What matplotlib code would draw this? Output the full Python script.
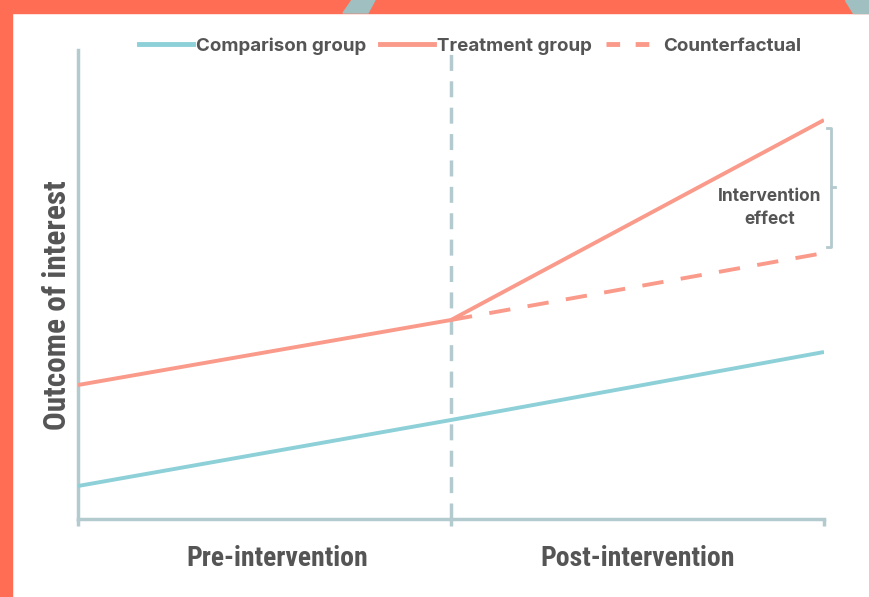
import numpy as np
import matplotlib
matplotlib.use("Agg")
import matplotlib.pyplot as plt
from matplotlib.patches import Rectangle, Polygon
from matplotlib.lines import Line2D

# Periods on the x axis (0 = start, 1 = intervention, 2 = end)
periods = [0, 1, 2]
comparison = [33, 99, 167]
treatment = [134, 199, 399]
counterfactual_x = [1, 2]
counterfactual = [199, 266]
period_labels = ["Pre-intervention", "Post-intervention"]
period_label_x = [0.535, 1.5]

teal = "#8dd0d8"
salmon = "#fa9a8a"
axis_col = "#b3cace"
text_col = "#555555"
border_col = "#ff6e54"
gray_col = "#9fbfc1"

W, H = 869, 597
fig = plt.figure(figsize=(W / 100, H / 100), dpi=100)

# decorative border
fig.patches.append(Rectangle((0, 0), 12 / W, 1, transform=fig.transFigure, color=border_col, zorder=0))
fig.patches.append(Rectangle((0, 1 - 13 / H), 1, 13 / H, transform=fig.transFigure, color=border_col, zorder=0))
fig.patches.append(Polygon([(352 / W, 1), (375 / W, 1), (368 / W, 1 - 13 / H), (343 / W, 1 - 13 / H)],
                           closed=True, transform=fig.transFigure, color=gray_col, zorder=1))
fig.patches.append(Polygon([(845 / W, 1), (1, 1), (1, 1 - 13 / H), (853 / W, 1 - 13 / H)],
                           closed=True, transform=fig.transFigure, color=gray_col, zorder=1))

ax = fig.add_axes([78 / W, (H - 519) / H, (824 - 78) / W, (519 - 50) / H])
ax.set_xlim(0, 2)
ax.set_ylim(0, 469)

ax.axvline(1, color=axis_col, lw=2.5, dashes=(4.6, 3), zorder=1)
ax.plot(periods, comparison, color=teal, lw=2.8, solid_capstyle="butt", zorder=3)
ax.plot(counterfactual_x, counterfactual, color=salmon, lw=2.8, dashes=(5.5, 4.5), zorder=3)
ax.plot(periods, treatment, color=salmon, lw=2.8, solid_capstyle="butt", zorder=4)

for s in ["top", "right"]:
    ax.spines[s].set_visible(False)
for s in ["left", "bottom"]:
    ax.spines[s].set_color(axis_col)
    ax.spines[s].set_linewidth(2.5)
ax.set_xticks(periods)
ax.set_xticklabels([])
ax.set_yticks([])
ax.tick_params(axis="x", length=5, width=2.5, color=axis_col)

cond = ["Roboto Condensed", "DejaVu Sans"]
for x, lab in zip(period_label_x, period_labels):
    ax.text(x, -40, lab, ha="center", va="center", fontsize=20, fontweight="bold",
            color=text_col, family=cond)
ax.set_ylabel("Outcome of interest", fontsize=22.5, fontweight="bold", color=text_col, family=cond)
ax.yaxis.label.set_va("center")
ax.yaxis.set_label_coords(-0.028, (519 - 305) / 469)

# intervention effect brace
bx = 2.02
ax.plot([bx - 0.012, bx, bx, bx - 0.012], [treatment[2] - 8, treatment[2] - 8, counterfactual[1] + 6, counterfactual[1] + 6],
        color=axis_col, lw=2, clip_on=False, solid_joinstyle="round")
mid = (treatment[2] + counterfactual[1]) / 2
ax.plot([bx, bx + 0.01], [mid, mid], color=axis_col, lw=2, clip_on=False)
ax.text(1.855, 311, "Intervention\neffect", ha="center", va="center", fontsize=12.5,
        fontweight="bold", color=text_col, family="Inter", linespacing=1.5)

handles = [Line2D([], [], color=teal, lw=3.5),
           Line2D([], [], color=salmon, lw=3.5),
           Line2D([], [], color=salmon, lw=3.5, dashes=(2.8, 3.2))]
fig.legend(handles, ["Comparison group", "Treatment group", "Counterfactual"],
           loc="center", bbox_to_anchor=(470 / W, 1 - 46 / H), ncol=3, frameon=False,
           handlelength=2.9, handletextpad=0.15, columnspacing=0.75,
           prop={"family": "Inter", "weight": "bold", "size": 13.5}, labelcolor=text_col)

fig.savefig("out.png", dpi=100)
